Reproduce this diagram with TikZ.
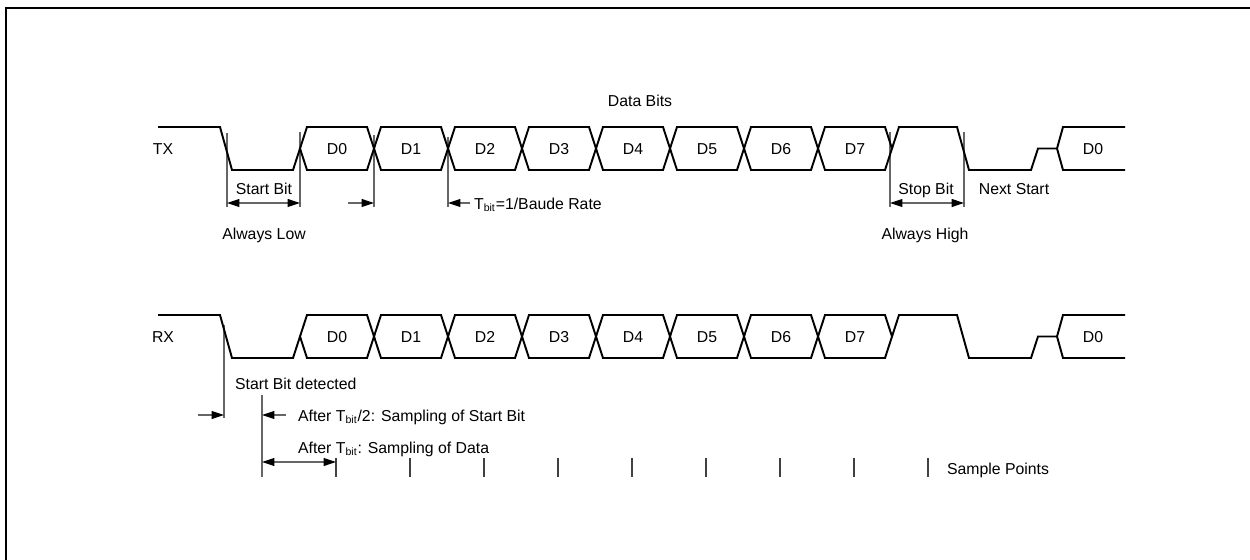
\documentclass[tikz,border=0pt]{standalone}
\usepackage{fontspec}
\setmainfont{Liberation Sans}
\usetikzlibrary{arrows.meta, positioning}

\begin{document}
\begin{tikzpicture}[
    x=0.02cm, y=-0.02cm,
    font=\fontsize{9}{11}\selectfont,
    sig/.style={line width=1.1pt, line join=miter},
    dim/.style={draw=black!60, line width=0.6pt},
    arrow/.style={dim, -{Triangle[length=7pt, width=4.5pt, color=black]}},
    dimarrow/.style={dim, {Triangle[length=7pt, width=4.5pt, color=black]}-{Triangle[length=7pt, width=4.5pt, color=black]}},
    lbl/.style={inner sep=1pt, text height=1.6ex, text depth=0.3ex}
]
    \useasboundingbox (0,0) rectangle (1250,560);
    \draw[line width=1.4pt] (6,560) -- (6,8) -- (1250,8);

    % dimension lines under the signals
    \foreach \x/\a in {227/133, 300/132, 374/135, 448/137, 890/132, 964/132}
        \draw[dim] (\x,\a) -- (\x,207);
    \draw[dim] (224,325) -- (224,418);
    \draw[dim] (262,395) -- (262,477);
    \foreach \k in {0,...,8}
        \draw[dim, draw=black!75] (336+74*\k,458) -- (336+74*\k,477);

    % TX and RX waveforms
    \foreach \row/\h in {TX/127, RX/315} {
        \pgfmathsetmacro\lo{\h+43}
        \pgfmathsetmacro\mi{\h+21.5}
        \node[lbl] (\row-name) at (163,\mi) {\row};
        \draw[sig] (158,\h) -- (220,\h) -- (232,\lo) -- (293,\lo) -- (300,\mi);
        \foreach \i in {0,...,7} {
            \pgfmathsetmacro\b{300+74*\i}
            \draw[sig] (\b,\mi) -- (\b+7,\h) -- (\b+67,\h) -- (\b+74,\mi)
                -- (\b+67,\lo) -- (\b+7,\lo) -- cycle;
            \node[lbl] (\row-D\i) at (\b+37,\mi) {D\i};
        }
        \draw[sig] (892,\mi) -- (899,\h) -- (957,\h) -- (969,\lo) -- (1031,\lo)
            -- (1038,\mi) -- (1057,\mi);
        \draw[sig] (1125,\h) -- (1063,\h) -- (1057,\mi) -- (1063,\lo) -- (1125,\lo);
        \node[lbl] (\row-next) at (1093,\mi) {D0};
    }

    % TX annotations
    \node[lbl] (databits) at (640,100) {Data Bits};
    \coordinate (sb-l) at (227,203);
    \coordinate (sb-r) at (300,203);
    \draw[dimarrow] (sb-l) -- (sb-r);
    \node[lbl] (startbit) at (264,188) {Start Bit};
    \node[lbl] (alwayslow) at (264,233) {Always Low};
    \coordinate (tb-in) at (348,203);
    \coordinate (tb-r) at (374,203);
    \draw[arrow] (tb-in) -- (tb-r);
    \coordinate (tb-out) at (470,203);
    \coordinate (tb-l) at (448,203);
    \draw[arrow] (tb-out) -- (tb-l);
    \node[lbl, anchor=west] (tbit) at (472,203) {T\textsubscript{bit}=1/Baude Rate};
    \coordinate (stb-l) at (890,203);
    \coordinate (stb-r) at (964,203);
    \draw[dimarrow] (stb-l) -- (stb-r);
    \node[lbl] (stopbit) at (926,188) {Stop Bit};
    \node[lbl] (alwayshigh) at (925,233) {Always High};
    \node[lbl] (nextstart) at (1014,188) {Next Start};

    % RX annotations
    \node[lbl, anchor=west] (detected) at (233,383) {Start Bit detected};
    \coordinate (det-in) at (198,415);
    \coordinate (det) at (224,415);
    \draw[arrow] (det-in) -- (det);
    \coordinate (half-in) at (286,415);
    \coordinate (half) at (262,415);
    \draw[arrow] (half-in) -- (half);
    \node[lbl, anchor=west] (sampstart) at (296,415) {After T\textsubscript{bit}/2: Sampling of Start Bit};
    \node[lbl, anchor=west] (sampdata) at (296,447) {After T\textsubscript{bit}: Sampling of Data};
    \coordinate (sd-l) at (262,462);
    \coordinate (sd-r) at (336,462);
    \draw[dimarrow] (sd-l) -- (sd-r);
    \node[lbl, anchor=west] (samplepts) at (945,468) {Sample Points};
\end{tikzpicture}
\end{document}
